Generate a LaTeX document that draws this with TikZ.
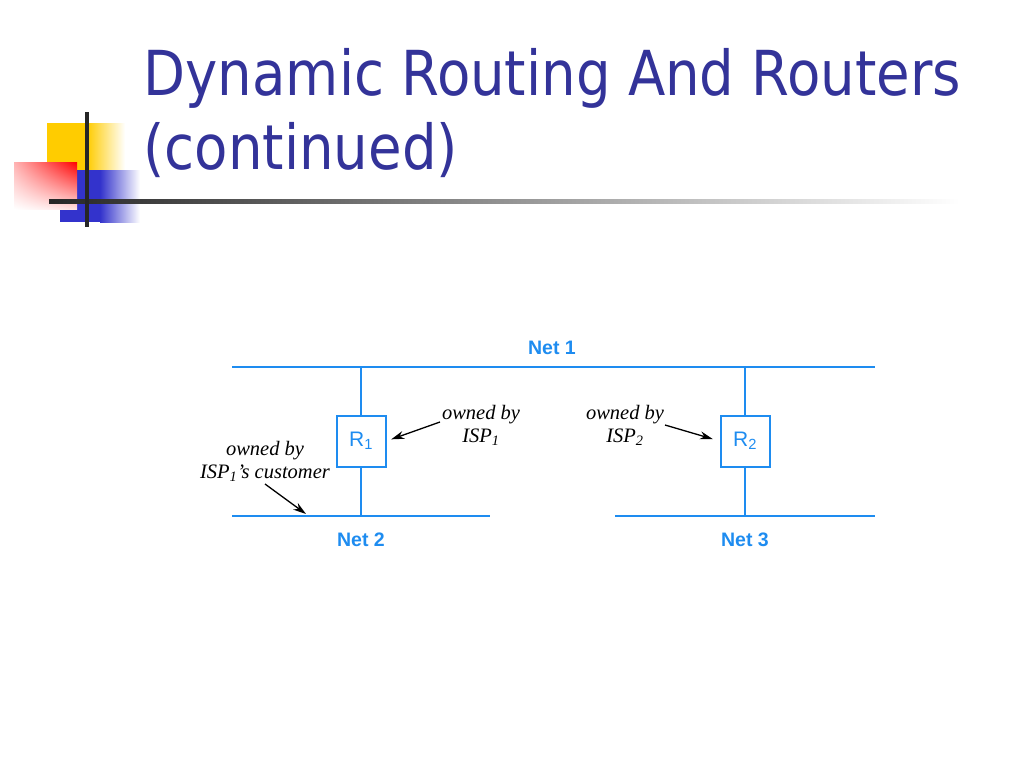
\documentclass[tikz,border=0pt]{standalone}
\usepackage{fontspec}
\usepackage{graphicx}
\setmainfont{Liberation Serif}
\newfontfamily\titlefont{DejaVu Sans}
\newfontfamily\labelfont{Liberation Sans}
\usetikzlibrary{arrows.meta,shadings}
\definecolor{titleblue}{RGB}{51,51,153}
\definecolor{netblue}{RGB}{30,140,240}
\definecolor{logoyellow}{RGB}{255,204,0}
\definecolor{logoblue}{RGB}{51,51,204}
\tikzset{
  net/.style={netblue,line width=2.6pt},
  drop/.style={netblue,line width=2pt},
  router/.style={draw=netblue,line width=2pt,minimum width=49pt,minimum height=51pt,
    text=netblue,font=\labelfont\fontsize{21}{24}\selectfont},
  netlabel/.style={text=netblue,font=\labelfont\bfseries\fontsize{19.5}{22}\selectfont},
  owner/.style={align=center,font=\itshape\fontsize{20.5}{23}\selectfont},
  ptr/.style={-{Stealth[length=13pt,width=8pt]},line width=1.3pt},
  titletext/.style={anchor=base west,text=titleblue,font=\titlefont\fontsize{62}{74}\selectfont},
}
\begin{document}
\begin{tikzpicture}[x=1pt,y=-1pt]
  \useasboundingbox (0,0) rectangle (1024,768);
  % Logo squares
  \fill[logoyellow] (47,123) rectangle (87,190);
  \shade[left color=logoyellow,right color=white] (87,123) rectangle (125,190);
  \fill[logoblue] (60,170) rectangle (100,222);
  \shade[left color=logoblue,right color=white] (100,170) rectangle (140,222);
  \shade[upper right=red,upper left=red!30,lower left=white,lower right=red!12]
    (14,162) rectangle (77,209);
  % Logo rules
  \shade[left color=black!85,right color=white] (49,199) rectangle (960,203);
  \draw[black!85,line width=4pt] (87,112) -- (87,227);

  % Title
  \node[titletext] (title1) at (140,95) {\scalebox{0.88}[1]{Dynamic Routing And Routers}};
  \node[titletext] (title2) at (140,169) {\scalebox{0.88}[1]{(continued)}};

  % Networks
  \coordinate (n1w) at (232,367);
  \coordinate (n1e) at (875,367);
  \coordinate (n2w) at (232,516);
  \coordinate (n2e) at (490,516);
  \coordinate (n3w) at (615,516);
  \coordinate (n3e) at (875,516);
  \draw[net] (n1w) -- (n1e);
  \draw[net] (n2w) -- (n2e);
  \draw[net] (n3w) -- (n3e);
  \node[netlabel] (net1) at (552,348) {Net 1};
  \node[netlabel] (net2) at (361,540) {Net 2};
  \node[netlabel] (net3) at (745,540) {Net 3};

  % Routers
  \node[router] (r1) at (361,441) {R\textsubscript{1}};
  \node[router] (r2) at (745,441) {R\textsubscript{2}};
  \draw[drop] (r1) -- (r1 |- n1w);
  \draw[drop] (r1) -- (r1 |- n2w);
  \draw[drop] (r2) -- (r2 |- n1w);
  \draw[drop] (r2) -- (r2 |- n3w);

  % Ownership notes
  \node[owner] (own1) at (481,425) {owned by\\ISP\textsubscript{1}};
  \node[owner] (own0) at (265,461) {owned by\\ISP\textsubscript{1}'s customer};
  \node[owner] (own2) at (625,425) {owned by\\ISP\textsubscript{2}};
  \coordinate (a1) at (440,422);
  \coordinate (a0) at (265,484);
  \coordinate (c0) at (306,514);
  \coordinate (a2) at (665,425);
  \draw[ptr,shorten >=5pt] (a1) -- (r1.east);
  \draw[ptr] (a0) -- (c0);
  \draw[ptr,shorten >=7pt] (a2) -- (r2.west);
\end{tikzpicture}
\end{document}
